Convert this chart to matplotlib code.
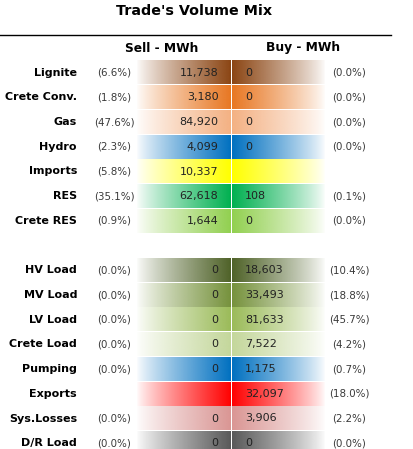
import matplotlib
matplotlib.use("Agg")
import matplotlib.pyplot as plt
import numpy as np
from matplotlib.colors import to_rgb

# data
labels = ["Lignite", "Crete Conv.", "Gas", "Hydro", "Imports", "RES", "Crete RES",
          "HV Load", "MV Load", "LV Load", "Crete Load", "Pumping", "Exports",
          "Sys.Losses", "D/R Load"]
sell_mwh = [11738, 3180, 84920, 4099, 10337, 62618, 1644,
            0, 0, 0, 0, 0, None, 0, 0]
buy_mwh = [0, 0, 0, 0, None, 108, 0,
           18603, 33493, 81633, 7522, 1175, 32097, 3906, 0]
sell_pct = [6.6, 1.8, 47.6, 2.3, 5.8, 35.1, 0.9,
            0.0, 0.0, 0.0, 0.0, 0.0, None, 0.0, 0.0]
buy_pct = [0.0, 0.0, 0.0, 0.0, None, 0.1, 0.0,
           10.4, 18.8, 45.7, 4.2, 0.7, 18.0, 2.2, 0.0]
row_slot = [0, 1, 2, 3, 4, 5, 6, 8, 9, 10, 11, 12, 13, 14, 15]
row_colors = ["#8B4513", "#E87722", "#F4B183", "#0070C0", "#FFFF00", "#00B050", "#92D050",
              "#4F6228", "#76923C", "#9BBB59", "#C4D79B", "#0070C0", "#FF0000",
              "#DA9694", "#595959"]

W, H = 413, 449
fig = plt.figure(figsize=(W / 100, H / 100), dpi=100)
ax = fig.add_axes([0, 0, 1, 1])
ax.set_xlim(0, W)
ax.set_ylim(H, 0)
ax.axis("off")

lab_font = "DejaVu Sans"
num_font = "DejaVu Sans"

ax.text(194, 11, "Trade's Volume Mix", ha="center", va="center",
        fontsize=10.3, fontweight="bold", family=lab_font)
ax.plot([0, 391], [35, 35], color="black", lw=1)
ax.text(162, 48, "Sell - MWh", ha="center", va="center", fontsize=8.8,
        fontweight="bold", family=lab_font)
ax.text(303, 48, "Buy - MWh", ha="center", va="center", fontsize=8.8,
        fontweight="bold", family=lab_font)

y0, pitch, half = 72.7, 24.7, 11.8
xl0, xc, xr1 = 137, 231.5, 325
ramp = 0.02 + 0.98 * np.linspace(0, 1, 200) ** 0.85

for i, lab in enumerate(labels):
    yc = y0 + row_slot[i] * pitch
    top, bot = yc - half, yc + half
    rgb = np.array(to_rgb(row_colors[i]))
    img = np.ones((1, len(ramp), 4))
    img[0, :, :3] = rgb
    img[0, :, 3] = ramp
    ax.imshow(img, extent=[xl0, xc - 0.8, bot, top], aspect="auto",
              interpolation="bilinear", zorder=1)
    img2 = img[:, ::-1, :]
    ax.imshow(img2, extent=[xc + 0.8, xr1, bot, top], aspect="auto",
              interpolation="bilinear", zorder=1)

    ax.text(77, yc, lab, ha="right", va="center", fontsize=8,
            fontweight="bold", family=lab_font)
    if sell_pct[i] is not None:
        ax.text(114, yc, f"({sell_pct[i]:.1f}%)", ha="center", va="center",
                fontsize=7.4, color="#3a3a3a", family=num_font)
    if sell_mwh[i] is not None:
        ax.text(218.5, yc, f"{sell_mwh[i]:,}", ha="right", va="center",
                fontsize=8, color="#222222", family=num_font)
    if buy_mwh[i] is not None:
        ax.text(245, yc, f"{buy_mwh[i]:,}", ha="left", va="center",
                fontsize=8, color="#222222", family=num_font)
    if buy_pct[i] is not None:
        ax.text(349.5, yc, f"({buy_pct[i]:.1f}%)", ha="center", va="center",
                fontsize=7.4, color="#3a3a3a", family=num_font)

ax.set_xlim(0, W)
ax.set_ylim(H, 0)
fig.savefig("out.png", dpi=100)
